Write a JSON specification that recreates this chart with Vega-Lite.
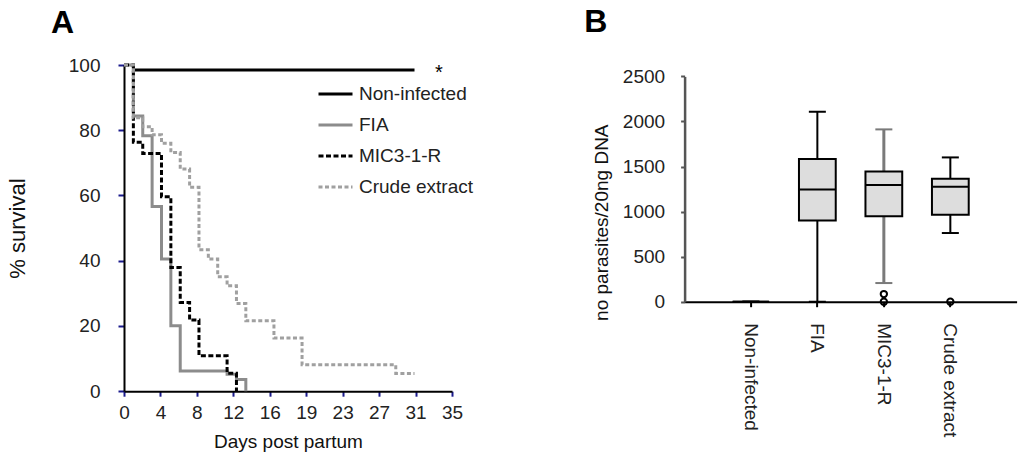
{
  "$schema": "https://vega.github.io/schema/vega-lite/v6.json",
  "background": "white",
  "padding": {"left": 6, "top": 6, "right": 5, "bottom": 5},
  "spacing": 232.6,
  "bounds": "flush",
  "config": {
    "font": "Liberation Sans",
    "view": {"stroke": null},
    "axis": {"grid": false, "labelFont": "Liberation Sans", "titleFont": "Liberation Sans", "labelColor": "#222", "titleColor": "#111", "titleFontWeight": "normal", "labelOverlap": false},
    "title": {"font": "Liberation Sans", "fontSize": 32, "fontWeight": "bold", "color": "#000"}
  },
  "resolve": {"scale": {"x": "independent", "y": "independent", "color": "independent", "strokeDash": "independent", "strokeWidth": "independent"}},
  "hconcat": [
    {
      "width": 328,
      "height": 326.2,
      "title": {"text": "A", "anchor": "start", "frame": "group", "dx": -73, "offset": -9.1, "baseline": "alphabetic"},
      "layer": [
        {
          "data": {"values": [
            {"group": "Non-infected", "day": 1, "pct": 98.5},
            {"group": "Non-infected", "day": 31, "pct": 98.5},
            {"group": "FIA", "day": 0, "pct": 100},
            {"group": "FIA", "day": 1, "pct": 84.4},
            {"group": "FIA", "day": 2, "pct": 78.3},
            {"group": "FIA", "day": 3, "pct": 56.6},
            {"group": "FIA", "day": 4, "pct": 40.5},
            {"group": "FIA", "day": 5, "pct": 20.1},
            {"group": "FIA", "day": 6, "pct": 6.2},
            {"group": "FIA", "day": 11, "pct": 5.2},
            {"group": "FIA", "day": 12, "pct": 3.6},
            {"group": "FIA", "day": 13, "pct": 0},
            {"group": "MIC3-1-R", "day": 0, "pct": 100},
            {"group": "MIC3-1-R", "day": 1, "pct": 76.3},
            {"group": "MIC3-1-R", "day": 2, "pct": 72.9},
            {"group": "MIC3-1-R", "day": 4, "pct": 59.6},
            {"group": "MIC3-1-R", "day": 5, "pct": 37.9},
            {"group": "MIC3-1-R", "day": 6, "pct": 27.2},
            {"group": "MIC3-1-R", "day": 7, "pct": 21.8},
            {"group": "MIC3-1-R", "day": 8, "pct": 10.9},
            {"group": "MIC3-1-R", "day": 11, "pct": 5.5},
            {"group": "MIC3-1-R", "day": 12, "pct": 0},
            {"group": "Crude extract", "day": 0, "pct": 100},
            {"group": "Crude extract", "day": 1, "pct": 83.8},
            {"group": "Crude extract", "day": 2, "pct": 81.1},
            {"group": "Crude extract", "day": 3, "pct": 78.6},
            {"group": "Crude extract", "day": 4, "pct": 76.0},
            {"group": "Crude extract", "day": 5, "pct": 73.2},
            {"group": "Crude extract", "day": 6, "pct": 68.1},
            {"group": "Crude extract", "day": 7, "pct": 62.5},
            {"group": "Crude extract", "day": 8, "pct": 43.4},
            {"group": "Crude extract", "day": 9, "pct": 40.5},
            {"group": "Crude extract", "day": 10, "pct": 35.1},
            {"group": "Crude extract", "day": 11, "pct": 32.3},
            {"group": "Crude extract", "day": 12, "pct": 26.9},
            {"group": "Crude extract", "day": 13, "pct": 21.6},
            {"group": "Crude extract", "day": 16, "pct": 16.3},
            {"group": "Crude extract", "day": 19, "pct": 8.1},
            {"group": "Crude extract", "day": 29, "pct": 5.4},
            {"group": "Crude extract", "day": 31, "pct": 5.4}
          ]},
          "mark": {"type": "line", "interpolate": "step-after", "strokeCap": "butt"},
          "encoding": {
            "x": {"field": "day", "type": "quantitative",
              "scale": {"domain": [0, 35], "nice": false, "zero": false},
              "axis": {"values": [0, 3.8889, 7.7778, 11.6667, 15.5556, 19.4444, 23.3333, 27.2222, 31.1111, 35], "tickCount": 12, "format": ".0f", "title": "Days post partum",
                "tickColor": "#1a1a8c", "tickWidth": 2, "tickSize": 5, "domainColor": "#000", "domainWidth": 2,
                "labelFontSize": 19, "titleFontSize": 19, "labelPadding": 7, "titlePadding": 10, "labelOverlap": false, "labelFlush": false}},
            "y": {"field": "pct", "type": "quantitative",
              "scale": {"domain": [0, 100], "nice": false},
              "axis": {"values": [0, 20, 40, 60, 80, 100], "tickCount": 8, "title": "% survival",
                "tickColor": "#1a1a8c", "tickWidth": 2, "tickSize": 6, "domainColor": "#000", "domainWidth": 2,
                "labelFontSize": 19, "titleFontSize": 22, "labelPadding": 18, "titleX": -94.7}},
            "color": {"field": "group", "type": "nominal",
              "scale": {"domain": ["Non-infected", "FIA", "MIC3-1-R", "Crude extract"], "range": ["#000000", "#8c8c8c", "#000000", "#a0a0a0"]},
              "legend": {"orient": "none", "legendX": 193, "legendY": 10.5, "symbolType": "stroke", "symbolSize": 1156, "labelFontSize": 19, "rowPadding": 2, "labelOffset": 5, "title": null, "padding": 0, "labelColor": "#222"}},
            "strokeDash": {"field": "group", "type": "nominal",
              "scale": {"domain": ["Non-infected", "FIA", "MIC3-1-R", "Crude extract"], "range": [[1, 0], [1, 0], [5, 2.5], [4, 2.5]]}},
            "strokeWidth": {"field": "group", "type": "nominal",
              "scale": {"domain": ["Non-infected", "FIA", "MIC3-1-R", "Crude extract"], "range": [3, 3, 2, 1.5]}}
          }
        },
        {
          "data": {"values": [{"day": 33.6, "pct": 98, "t": "*"}]},
          "mark": {"type": "text", "fontSize": 20, "baseline": "middle", "dy": 1, "color": "#000"},
          "encoding": {
            "x": {"field": "day", "type": "quantitative"},
            "y": {"field": "pct", "type": "quantitative"},
            "text": {"field": "t"}
          }
        }
      ]
    },
    {
      "width": 332,
      "height": 236.7,
      "title": {"text": "B", "anchor": "start", "frame": "group", "dx": -100.3, "offset": 0.9, "baseline": "alphabetic"},
      "data": {"values": [
        {"group": "Non-infected", "lo": 0, "q1": 0, "med": 0, "q3": 0, "hi": 0},
        {"group": "FIA", "lo": 0, "q1": 902, "med": 1246, "q3": 1583, "hi": 2108},
        {"group": "MIC3-1-R", "lo": 207, "q1": 947, "med": 1295, "q3": 1446, "hi": 1912},
        {"group": "Crude extract", "lo": 762, "q1": 965, "med": 1276, "q3": 1365, "hi": 1601}
      ]},
      "layer": [
        {
          "mark": {"type": "rule"},
          "encoding": {
            "x": {"field": "group", "type": "nominal",
              "scale": {"domain": ["Non-infected", "FIA", "MIC3-1-R", "Crude extract"], "paddingInner": 0.447, "paddingOuter": 0.72},
              "axis": {"title": null, "labelAngle": 90, "labelAlign": "left", "labelBaseline": "middle", "labelFontSize": 19, "labelPadding": 16,
                "tickSize": 5, "tickColor": "#000", "tickWidth": 2, "domainColor": "#000", "domainWidth": 2}},
            "y": {"field": "lo", "type": "quantitative",
              "scale": {"domain": [0, 2500], "nice": false, "range": [236.7, 11.4]},
              "axis": {"values": [0, 500, 1000, 1500, 2000, 2500], "tickCount": 8, "format": "d", "title": "no  parasites/20ng DNA", "titleFontSize": 19, "labelFontSize": 19,
                "tickSize": 4, "tickColor": "#555", "tickWidth": 2, "domainColor": "#555", "domainWidth": 2.5, "labelPadding": 16,
                "titleX": -73.3, "titleY": 157.2}},
            "y2": {"field": "hi"},
            "color": {"condition": {"test": "datum.group === 'MIC3-1-R'", "value": "#7a7a7a"}, "value": "#000000"},
            "strokeWidth": {"condition": {"test": "datum.group === 'MIC3-1-R'", "value": 3}, "value": 2}
          }
        },
        {
          "mark": {"type": "tick", "size": 17, "thickness": 2, "opacity": 1},
          "encoding": {
            "x": {"field": "group", "type": "nominal"},
            "y": {"field": "lo", "type": "quantitative"},
            "color": {"condition": {"test": "datum.group === 'MIC3-1-R'", "value": "#7a7a7a"}, "value": "#000000"}
          }
        },
        {
          "mark": {"type": "tick", "size": 17, "thickness": 2, "opacity": 1},
          "encoding": {
            "x": {"field": "group", "type": "nominal"},
            "y": {"field": "hi", "type": "quantitative"},
            "color": {"condition": {"test": "datum.group === 'MIC3-1-R'", "value": "#7a7a7a"}, "value": "#000000"}
          }
        },
        {
          "mark": {"type": "bar", "fill": "#dddddd", "stroke": "#000000", "strokeWidth": 2, "opacity": 1},
          "encoding": {
            "x": {"field": "group", "type": "nominal"},
            "y": {"field": "q1", "type": "quantitative"},
            "y2": {"field": "q3"}
          }
        },
        {
          "mark": {"type": "tick", "size": 36, "thickness": 2, "color": "#000000", "opacity": 1},
          "encoding": {
            "x": {"field": "group", "type": "nominal"},
            "y": {"field": "med", "type": "quantitative"}
          }
        },
        {
          "data": {"values": [
            {"group": "MIC3-1-R", "v": 0},
            {"group": "MIC3-1-R", "v": 85},
            {"group": "Crude extract", "v": 0}
          ]},
          "mark": {"type": "point", "shape": "circle", "filled": false, "stroke": "#000000", "strokeWidth": 2, "size": 40, "opacity": 1},
          "encoding": {
            "x": {"field": "group", "type": "nominal"},
            "y": {"field": "v", "type": "quantitative"}
          }
        }
      ]
    }
  ]
}
